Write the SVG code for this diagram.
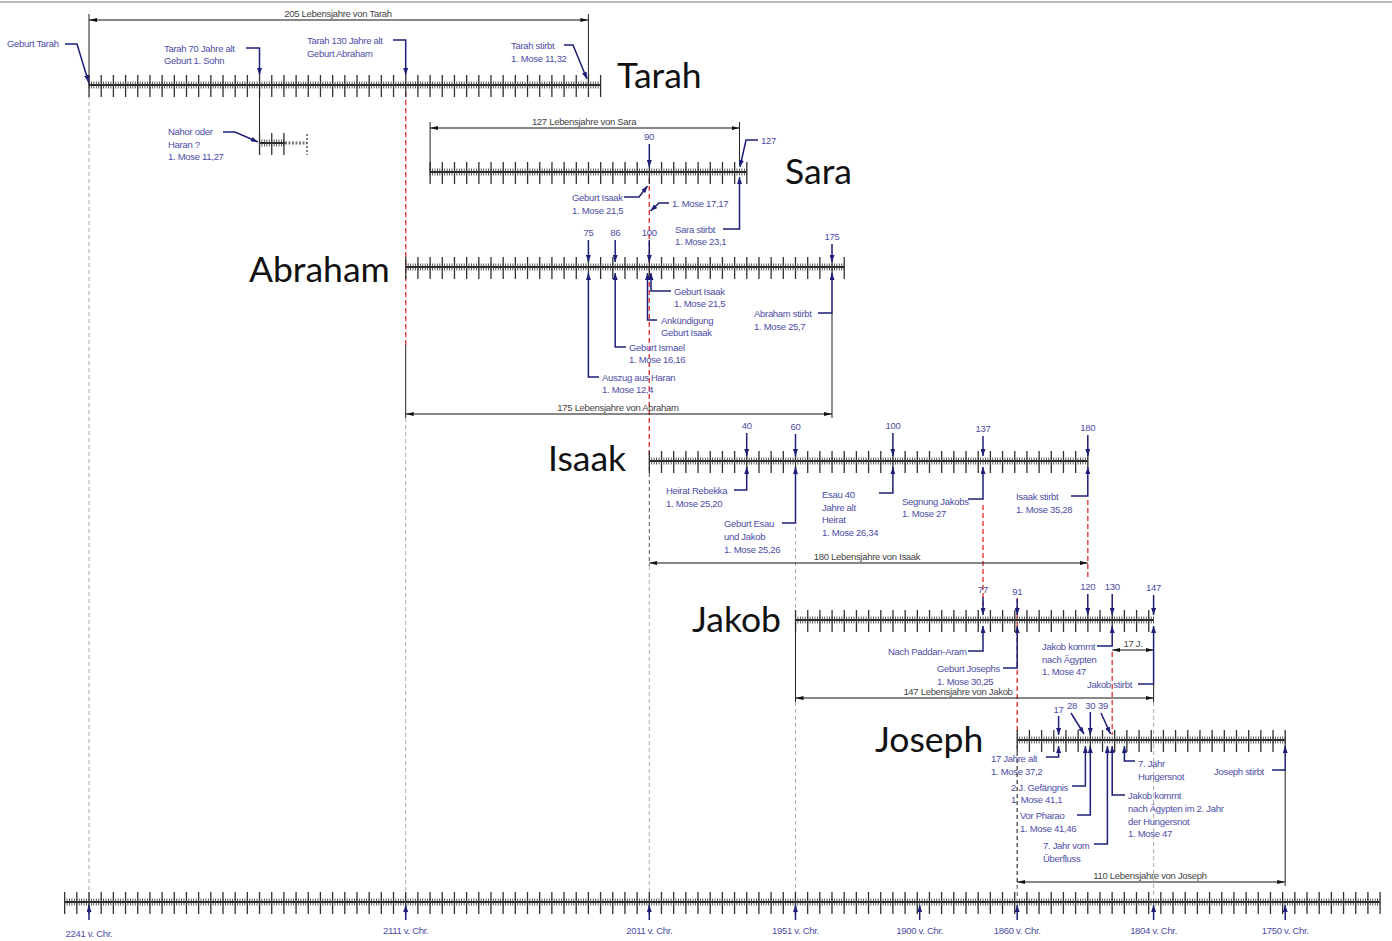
<svg xmlns="http://www.w3.org/2000/svg" width="1392" height="941" viewBox="0 0 1392 941">
<defs>
<marker id="ab" viewBox="0 0 7 5" refX="7" refY="2.5" markerWidth="7" markerHeight="5" markerUnits="userSpaceOnUse" orient="auto"><path d="M0,0 L7,2.5 L0,5 z" fill="#1e1e78"/></marker>
<marker id="ad" viewBox="0 0 8 4" refX="8" refY="2" markerWidth="8" markerHeight="4" markerUnits="userSpaceOnUse" orient="auto-start-reverse"><path d="M0,0 L8,2 L0,4 z" fill="#111"/></marker>
<style>
.ax{stroke:#2a2a2a;stroke-width:2;fill:none}
.ts{stroke:#333;stroke-width:7;stroke-dasharray:0.8 1.636;fill:none}
.tb{stroke:#333;stroke-width:22;stroke-dasharray:1.3 10.88;fill:none}
.ld{stroke:#1e1e78;stroke-width:1.5;fill:none;marker-end:url(#ab)}
.dm{stroke:#111;stroke-width:1;fill:none;marker-start:url(#ad);marker-end:url(#ad)}
.ex{stroke:#222;stroke-width:1;fill:none}
.gd{stroke:#aaa;stroke-width:1;stroke-dasharray:4 3;fill:none}
.kd{stroke:#555;stroke-width:1;stroke-dasharray:4 3;fill:none}
.rd{stroke:#e03a3a;stroke-width:1.4;stroke-dasharray:5 3;fill:none}
.t,.n,.d{font-family:"Liberation Sans",Arial,sans-serif;font-size:9.5px;letter-spacing:-0.3px;fill:#4d4da6}
.n{text-anchor:middle}
.d{fill:#444;text-anchor:middle}
.big{font-family:Lato,"Open Sans",sans-serif;font-size:35.5px;fill:#111}
</style>
</defs>
<rect width="1392" height="941" fill="#fff"/>
<line x1="0" y1="2" x2="1392" y2="2" stroke="#777" stroke-width="1.2"/>

<g id="guides">
<line class="gd" x1="89" y1="95" x2="89" y2="898"/>
<line class="gd" x1="405.7" y1="418" x2="405.7" y2="898"/>
<line class="gd" x1="649.3" y1="566" x2="649.3" y2="898"/>
<line class="gd" x1="795.5" y1="527" x2="795.5" y2="617"/>
<line class="gd" x1="795.5" y1="702" x2="795.5" y2="898"/>
<line class="gd" x1="1153.6" y1="702" x2="1153.6" y2="898"/>
<line class="kd" x1="1017.2" y1="745" x2="1017.2" y2="898"/>
<line class="kd" x1="649.3" y1="466" x2="649.3" y2="566"/>
<line class="rd" x1="405.7" y1="92" x2="405.7" y2="345"/>
<line class="rd" x1="649.3" y1="178" x2="649.3" y2="456"/>
<line class="rd" x1="983" y1="505" x2="983" y2="612"/>
<line class="rd" x1="1087.8" y1="500" x2="1087.8" y2="580"/>
<line class="rd" x1="1017.2" y1="598" x2="1017.2" y2="735"/>
<line class="rd" x1="1112.2" y1="652" x2="1112.2" y2="735"/>
</g>

<g id="tarah">
<line class="ax" x1="89" y1="85" x2="600.6" y2="85"/>
<line class="ts" x1="88.6" y1="85" x2="600.6" y2="85"/>
<line class="tb" x1="88.4" y1="86" x2="601.5" y2="86"/>
<text class="big" x="617" y="88">Tarah</text>
<line class="ex" x1="89" y1="14" x2="89" y2="85"/>
<line class="ex" x1="588.4" y1="14" x2="588.4" y2="85"/>
<line class="dm" x1="89" y1="20" x2="588.4" y2="20"/>
<text class="d" x="338" y="17">205  Lebensjahre von Tarah</text>
<text class="t" x="7" y="47">Geburt Tarah</text>
<path class="ld" d="M65,44 H77 L88.5,82"/>
<text class="t" x="164" y="52">Tarah 70 Jahre alt</text>
<text class="t" x="164" y="64">Geburt 1. Sohn</text>
<path class="ld" d="M246,48 H259.5 V75"/>
<text class="t" x="307" y="44">Tarah 130 Jahre alt</text>
<text class="t" x="307" y="57">Geburt Abraham</text>
<path class="ld" d="M393,40 H405.7 V75"/>
<text class="t" x="511" y="49">Tarah stirbt</text>
<text class="t" x="511" y="62">1. Mose 11,32</text>
<path class="ld" d="M564,45 H573 L587,79"/>
</g>

<g id="nahor">
<line class="ex" x1="259.5" y1="85" x2="259.5" y2="155" stroke-width="1.3"/>
<line class="ax" x1="259.5" y1="143" x2="285" y2="143"/>
<line class="ts" x1="259.1" y1="143" x2="285" y2="143"/>
<line class="tb" x1="258.9" y1="144" x2="285" y2="144"/>
<line x1="285" y1="143" x2="307" y2="143" stroke="#777" stroke-width="3" stroke-dasharray="2 1.5"/>
<line x1="307" y1="134" x2="307" y2="155" stroke="#555" stroke-width="1.5" stroke-dasharray="2 2"/>
<text class="t" x="168" y="135">Nahor oder</text>
<text class="t" x="168" y="148">Haran ?</text>
<text class="t" x="168" y="160">1. Mose 11,27</text>
<path class="ld" d="M223,132 H235 L258,142"/>
</g>

<g id="sara">
<line class="ax" x1="430.1" y1="172" x2="746.8" y2="172"/>
<line class="ts" x1="429.7" y1="172" x2="746.8" y2="172"/>
<line class="tb" x1="429.5" y1="173" x2="747.5" y2="173"/>
<text class="big" x="785" y="184">Sara</text>
<line class="ex" x1="430.1" y1="122" x2="430.1" y2="172"/>
<line class="ex" x1="739.5" y1="122" x2="739.5" y2="165"/>
<line class="dm" x1="430.1" y1="128" x2="739.5" y2="128"/>
<text class="d" x="584" y="125">127  Lebensjahre von Sara</text>
<text class="n" x="649" y="140">90</text>
<path class="ld" d="M649.3,144 V167"/>
<text class="t" x="761" y="144">127</text>
<path class="ld" d="M758,140 H746 L740,167"/>
<text class="t" x="572" y="201">Geburt Isaak</text>
<text class="t" x="572" y="214">1. Mose 21,5</text>
<path class="ld" d="M624,197 H639 L647.5,186"/>
<text class="t" x="672" y="207">1. Mose 17,17</text>
<path class="ld" d="M669,203 H659 L650.5,211"/>
<text class="t" x="675" y="233">Sara stirbt</text>
<text class="t" x="675" y="245">1. Mose 23,1</text>
<path class="ld" d="M723,229 H739.5 V177"/>
</g>

<g id="abraham">
<line class="ax" x1="405.7" y1="267" x2="844.2" y2="267"/>
<line class="ts" x1="405.3" y1="267" x2="844.2" y2="267"/>
<line class="tb" x1="405.1" y1="268" x2="845" y2="268"/>
<text class="big" x="249" y="282">Abraham</text>
<text class="n" x="588.4" y="236">75</text>
<path class="ld" d="M588.4,240 V262"/>
<text class="n" x="615.2" y="236">86</text>
<path class="ld" d="M615.2,240 V262"/>
<text class="n" x="649.3" y="236">100</text>
<path class="ld" d="M649.3,240 V262"/>
<text class="n" x="832" y="240">175</text>
<path class="ld" d="M832,244 V262"/>
<text class="t" x="674" y="295">Geburt Isaak</text>
<text class="t" x="674" y="307">1. Mose 21,5</text>
<path class="ld" d="M671,291 H651 V273"/>
<text class="t" x="661" y="324">Ankündigung</text>
<text class="t" x="661" y="336">Geburt Isaak</text>
<path class="ld" d="M657,320 H647.5 V273"/>
<text class="t" x="629" y="351">Geburt Ismael</text>
<text class="t" x="629" y="363">1. Mose 16,16</text>
<path class="ld" d="M626,347 H615.2 V273"/>
<text class="t" x="602" y="381">Auszug aus Haran</text>
<text class="t" x="602" y="393">1. Mose 12,4</text>
<path class="ld" d="M599,377 H588.4 V273"/>
<text class="t" x="754" y="317">Abraham stirbt</text>
<text class="t" x="754" y="330">1. Mose 25,7</text>
<path class="ld" d="M818,313 H832 V273"/>
<line class="ex" x1="832" y1="313" x2="832" y2="418"/>
<line class="ex" x1="405.7" y1="345" x2="405.7" y2="418"/>
<line class="dm" x1="405.7" y1="414" x2="832" y2="414"/>
<text class="d" x="618" y="411">175  Lebensjahre von Abraham</text>
</g>

<g id="isaak">
<line class="ax" x1="649.3" y1="461" x2="1087.8" y2="461"/>
<line class="ts" x1="648.9" y1="461" x2="1088.5" y2="461"/>
<line class="tb" x1="648.7" y1="462" x2="1089" y2="462"/>
<text class="big" x="548" y="471">Isaak</text>
<text class="n" x="746.7" y="429">40</text>
<path class="ld" d="M746.7,433 V456"/>
<text class="n" x="795.5" y="430">60</text>
<path class="ld" d="M795.5,434 V456"/>
<text class="n" x="892.9" y="429">100</text>
<path class="ld" d="M892.9,433 V456"/>
<text class="n" x="983" y="432">137</text>
<path class="ld" d="M983,436 V456"/>
<text class="n" x="1087.8" y="431">180</text>
<path class="ld" d="M1087.8,435 V456"/>
<text class="t" x="666" y="494">Heirat Rebekka</text>
<text class="t" x="666" y="507">1. Mose 25,20</text>
<path class="ld" d="M734,490 H746.7 V467"/>
<text class="t" x="724" y="527">Geburt Esau</text>
<text class="t" x="724" y="540">und Jakob</text>
<text class="t" x="724" y="553">1. Mose 25,26</text>
<path class="ld" d="M782,523 H795.5 V467"/>
<text class="t" x="822" y="498">Esau 40</text>
<text class="t" x="822" y="511">Jahre alt</text>
<text class="t" x="822" y="523">Heirat</text>
<text class="t" x="822" y="536">1. Mose 26,34</text>
<path class="ld" d="M879,493 H892.9 V467"/>
<text class="t" x="902" y="505">Segnung Jakobs</text>
<text class="t" x="902" y="517">1. Mose 27</text>
<path class="ld" d="M968,499 H983 V467"/>
<text class="t" x="1016" y="500">Isaak stirbt</text>
<text class="t" x="1016" y="513">1. Mose 35,28</text>
<path class="ld" d="M1071,496 H1087.8 V467"/>
<line class="dm" x1="649.3" y1="563" x2="1087.8" y2="563"/>
<text class="d" x="867" y="560">180  Lebensjahre von Isaak</text>
</g>

<g id="jakob">
<line class="ax" x1="795.5" y1="620" x2="1153.6" y2="620"/>
<line class="ts" x1="795.1" y1="620" x2="1154" y2="620"/>
<line class="tb" x1="794.9" y1="621" x2="1154" y2="621"/>
<text class="big" x="692" y="632">Jakob</text>
<text class="n" x="983" y="593">77</text>
<path class="ld" d="M983,597 V615"/>
<text class="n" x="1017.2" y="595">91</text>
<path class="ld" d="M1017.2,599 V615"/>
<text class="n" x="1087.8" y="590">120</text>
<path class="ld" d="M1087.8,594 V615"/>
<text class="n" x="1112.2" y="590">130</text>
<path class="ld" d="M1112.2,594 V615"/>
<text class="n" x="1153.6" y="591">147</text>
<path class="ld" d="M1153.6,595 V615"/>
<text class="t" x="888" y="655">Nach Paddan-Aram</text>
<path class="ld" d="M968,651 H983 V626"/>
<text class="t" x="937" y="672">Geburt Josephs</text>
<text class="t" x="937" y="685">1. Mose 30,25</text>
<path class="ld" d="M1003,668 H1017.2 V626"/>
<text class="t" x="1042" y="650">Jakob kommt</text>
<text class="t" x="1042" y="663">nach Ägypten</text>
<text class="t" x="1042" y="675">1. Mose 47</text>
<path class="ld" d="M1097,646 H1112.2 V626"/>
<line class="dm" x1="1112.2" y1="650" x2="1153.6" y2="650"/>
<text class="d" x="1133" y="647">17  J.</text>
<text class="t" x="1087" y="688">Jakob stirbt</text>
<path class="ld" d="M1138,684 H1153.6 V626"/>
<line class="ex" x1="1153.6" y1="684" x2="1153.6" y2="702"/>
<line class="ex" x1="795.5" y1="620" x2="795.5" y2="702"/>
<line class="dm" x1="795.5" y1="698" x2="1153.6" y2="698"/>
<text class="d" x="958" y="695">147  Lebensjahre von Jakob</text>
</g>

<g id="joseph">
<line class="ax" x1="1017.2" y1="740" x2="1285.2" y2="740"/>
<line class="ts" x1="1016.8" y1="740" x2="1285.6" y2="740"/>
<line class="tb" x1="1016.6" y1="741" x2="1286" y2="741"/>
<text class="big" x="875" y="752">Joseph</text>
<text class="n" x="1058.6" y="713">17</text>
<path class="ld" d="M1058.6,716 V735"/>
<text class="n" x="1072" y="709">28</text>
<path class="ld" d="M1071,713 L1084,734"/>
<text class="n" x="1090.3" y="709">30</text>
<path class="ld" d="M1090.3,712 V735"/>
<text class="n" x="1103" y="709">39</text>
<path class="ld" d="M1101,713 L1110.5,734"/>
<text class="t" x="991" y="762">17 Jahre alt</text>
<text class="t" x="991" y="775">1. Mose 37,2</text>
<path class="ld" d="M1046,757 H1058.6 V746"/>
<text class="t" x="1011" y="791">2 J. Gefängnis</text>
<text class="t" x="1011" y="803">1. Mose 41,1</text>
<path class="ld" d="M1072,786 H1085.4 V746"/>
<text class="t" x="1020" y="819">Vor Pharao</text>
<text class="t" x="1020" y="832">1. Mose 41,46</text>
<path class="ld" d="M1077,815 H1090.3 V746"/>
<text class="t" x="1043" y="849">7. Jahr vom</text>
<text class="t" x="1043" y="862">Überfluss</text>
<path class="ld" d="M1094,844 H1107.4 V746"/>
<text class="t" x="1128" y="799">Jakob kommt</text>
<text class="t" x="1128" y="812">nach Ägypten im 2. Jahr</text>
<text class="t" x="1128" y="825">der Hungersnot</text>
<text class="t" x="1128" y="837">1. Mose 47</text>
<path class="ld" d="M1125,795 H1112.2 V746"/>
<text class="t" x="1138" y="767">7. Jahr</text>
<text class="t" x="1138" y="780">Hungersnot</text>
<path class="ld" d="M1135,761 H1124.4 V746"/>
<text class="t" x="1214" y="775">Joseph stirbt</text>
<path class="ld" d="M1272,770 H1285.2 V746"/>
<line class="ex" x1="1285.2" y1="770" x2="1285.2" y2="886"/>
<line class="kd" x1="1017.2" y1="745" x2="1017.2" y2="886"/>
<line class="dm" x1="1017.2" y1="882" x2="1285.2" y2="882"/>
<text class="d" x="1150" y="879">110  Lebensjahre von Joseph</text>
</g>

<g id="axis">
<line class="ax" x1="64.6" y1="902" x2="1380" y2="902"/>
<line class="ts" x1="64.2" y1="902" x2="1380" y2="902"/>
<line class="tb" x1="64" y1="903" x2="1381" y2="903"/>
<path class="ld" d="M89,920 V905"/>
<path class="ld" d="M405.7,920 V905"/>
<path class="ld" d="M649.3,920 V905"/>
<path class="ld" d="M795.5,920 V905"/>
<path class="ld" d="M919.7,920 V905"/>
<path class="ld" d="M1017.2,920 V905"/>
<path class="ld" d="M1153.6,920 V905"/>
<path class="ld" d="M1285.2,920 V905"/>
<text class="n" x="89" y="937">2241 v. Chr.</text>
<text class="n" x="405.7" y="934">2111 v. Chr.</text>
<text class="n" x="649.3" y="934">2011 v. Chr.</text>
<text class="n" x="795.5" y="934">1951 v. Chr.</text>
<text class="n" x="919.7" y="934">1900 v. Chr.</text>
<text class="n" x="1017.2" y="934">1860 v. Chr.</text>
<text class="n" x="1153.6" y="934">1804 v. Chr.</text>
<text class="n" x="1285.2" y="934">1750 v. Chr.</text>
</g>
</svg>
